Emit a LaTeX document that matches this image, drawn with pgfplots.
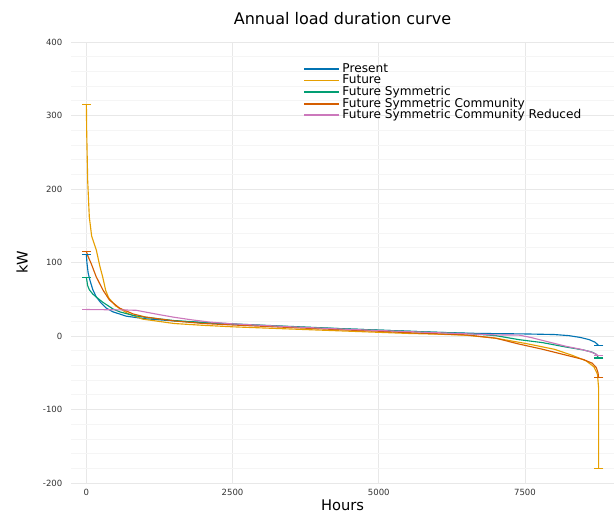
\documentclass[border=0pt]{standalone}
\usepackage{fontspec}
\setmainfont{DejaVu Sans}
\usepackage{pgfplots}
\pgfplotsset{compat=1.18}
\definecolor{cPresent}{HTML}{0173B2}
\definecolor{cFuture}{HTML}{E69F00}
\definecolor{cSym}{HTML}{029E73}
\definecolor{cSymCom}{HTML}{D55E00}
\definecolor{cRed}{HTML}{CC78BC}

\begin{document}
\begin{tikzpicture}
\useasboundingbox (-53.25pt,-22.5pt) rectangle (407.25pt,362.25pt);
\begin{axis}[
  at={(0pt,0pt)}, anchor=south west,
  scale only axis,
  width=407.25pt, height=330.75pt,
  xmin=-263, xmax=9023,
  ymin=-200, ymax=400,
  xtick={0,2500,5000,7500},
  ytick={-200,-100,0,100,200,300,400},
  minor y tick num=4,
  grid=both,
  major grid style={draw=black!9, line width=0.5pt},
  minor grid style={draw=black!4, line width=0.5pt},
  axis line style={draw=none},
  tick style={draw=none},
  scaled x ticks=false,
  /pgf/number format/assume math mode=true,
  /pgf/number format/set thousands separator={},
  ticklabel style={font=\fontsize{6.4}{7}\selectfont, text=black!80},
  yticklabel style={xshift=-3pt},
  xticklabel style={yshift=-1pt},
  title={Annual load duration curve},
  title style={at={(axis description cs:0.5,1.036)}, anchor=center, font=\fontsize{12}{14}\selectfont},
  xlabel={Hours},
  xlabel style={at={(axis description cs:0.5,-0.0499)}, anchor=center, font=\fontsize{11}{13}\selectfont},
  ylabel={kW},
  ylabel style={at={(axis description cs:-0.0902,0.5)}, anchor=center, font=\fontsize{11}{13}\selectfont},
  legend cell align=left,
  legend style={at={(0.4273,0.957)}, anchor=north west, draw=none, fill=none,
    inner sep=0pt, row sep=-3.7pt,
    font=\fontsize{9.1}{9.5}\selectfont},
  legend image code/.code={\draw[#1,mark=none,line width=1.4pt] (0pt,0pt) -- (26pt,0pt);},
]
% Present
\addplot[color=cPresent, line width=0.85pt, mark=-, mark size=3.5pt, mark options={solid}, mark indices={1,27}] coordinates {
  (0,111) (10,99) (30,86) (60,76) (110,63) (170,53) (250,45) (340,38) (450,33) (680,27)
  (1000,23.5) (1500,20.5) (2000,18) (2500,16) (3500,12.5) (4500,9.5) (5000,8) (5500,6.5) (6000,5) (6700,3.5)
  (7500,2.8) (8000,2) (8250,0.5) (8450,-2) (8600,-5) (8700,-8.5) (8760,-13)
};
\addlegendentry{Present}
% Future
\addplot[color=cFuture, line width=0.85pt, mark=-, mark size=3.5pt, mark options={solid}, mark indices={1,31}] coordinates {
  (0,315) (5,280) (22,212) (50,162) (90,136) (170,117) (230,95) (280,80) (330,62) (380,52)
  (500,41) (700,31) (960,23) (1500,17) (2000,14.5) (2500,12.5) (3500,9.5) (4500,6.5) (5000,5) (5500,3.5)
  (6000,2.5) (6500,1) (7000,-3) (7500,-10) (8000,-18) (8300,-26) (8550,-34) (8680,-42) (8740,-52) (8759,-70)
  (8760,-180)
};
\addlegendentry{Future}
% Future Symmetric
\addplot[color=cSym, line width=0.85pt, mark=-, mark size=3.5pt, mark options={solid}, mark indices={1,27}] coordinates {
  (0,80) (20,69) (50,63) (110,57) (200,51) (280,46) (450,37) (565,33) (800,28) (1000,25.5)
  (1500,21) (2000,18.5) (2500,16.5) (3500,13) (4500,9.5) (5000,8) (5500,6.5) (6000,5) (6500,3.5) (7000,0.5)
  (7400,-5) (7800,-9) (8200,-15) (8500,-19) (8650,-22) (8720,-25) (8760,-30)
};
\addlegendentry{Future Symmetric}
% Future Symmetric Community
\addplot[color=cSymCom, line width=0.85pt, mark=-, mark size=3.5pt, mark options={solid}, mark indices={1,27}] coordinates {
  (0,115) (30,108) (80,99) (166,81) (280,63) (394,49) (565,38) (800,30) (1000,26) (1500,20.5)
  (2000,17) (2500,15) (3500,11.5) (4500,8) (5000,6.5) (5500,4.5) (6000,3) (6500,1.5) (7000,-3) (7400,-11)
  (7800,-18) (8200,-26) (8500,-32) (8650,-37) (8720,-43) (8750,-50) (8760,-57)
};
\addlegendentry{Future Symmetric Community}
% Future Symmetric Community Reduced
\addplot[color=cRed, line width=0.85pt, mark=-, mark size=3.5pt, mark options={solid}, mark indices={1,25}] coordinates {
  (0,36) (300,35.8) (600,35.5) (850,35) (1050,32) (1250,29) (1500,25.5) (1800,22) (2100,19) (2500,16.5)
  (3500,12.5) (4500,9) (5000,7.5) (5500,6) (6000,4.5) (6500,3) (7000,1.5) (7400,1.2) (7600,-2) (7900,-8)
  (8200,-14) (8450,-18) (8600,-21) (8700,-24) (8760,-27)
};
\addlegendentry{Future Symmetric Community Reduced}
\end{axis}
\end{tikzpicture}
\end{document}
